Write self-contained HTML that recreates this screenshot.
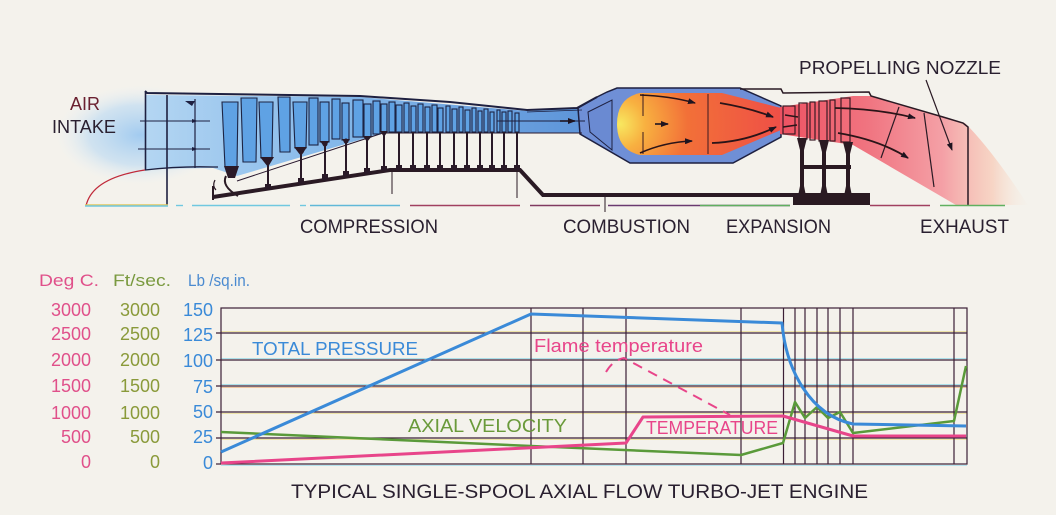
<!DOCTYPE html>
<html><head><meta charset="utf-8"><style>
html,body{margin:0;padding:0;background:#f4f2ec;}
svg{display:block;}
text{font-family:"Liberation Sans",sans-serif;}
</style></head><body>
<svg width="1056" height="515" viewBox="0 0 1056 515" xmlns="http://www.w3.org/2000/svg">
<defs>
<radialGradient id="haze" cx="0.5" cy="0.5" r="0.5">
<stop offset="0" stop-color="#9ec9f0" stop-opacity="0.95"/>
<stop offset="0.6" stop-color="#b8d8f2" stop-opacity="0.6"/>
<stop offset="1" stop-color="#e8f0f6" stop-opacity="0"/>
</radialGradient>
<linearGradient id="comp" x1="145" y1="0" x2="600" y2="0" gradientUnits="userSpaceOnUse">
<stop offset="0" stop-color="#b4d6f2"/>
<stop offset="0.4" stop-color="#86b9ea"/>
<stop offset="1" stop-color="#5a92d8"/>
</linearGradient>
<radialGradient id="flame" cx="620" cy="124" r="170" gradientUnits="userSpaceOnUse">
<stop offset="0" stop-color="#f8e860"/>
<stop offset="0.15" stop-color="#f8b040"/>
<stop offset="0.4" stop-color="#f27038"/>
<stop offset="1" stop-color="#ee4c48"/>
</radialGradient>
<linearGradient id="noz" x1="780" y1="0" x2="1030" y2="0" gradientUnits="userSpaceOnUse">
<stop offset="0" stop-color="#ee5262"/>
<stop offset="0.35" stop-color="#f07480"/>
<stop offset="0.65" stop-color="#f4a0a6"/>
<stop offset="0.85" stop-color="#f8c8b4" stop-opacity="0.7"/>
<stop offset="1" stop-color="#f8e8d8" stop-opacity="0"/>
</linearGradient>
<marker id="ah" markerWidth="8" markerHeight="6" refX="7" refY="3" orient="auto" markerUnits="userSpaceOnUse">
<path d="M0,0 L8,3 L0,6 Z" fill="#1e1420"/>
</marker>
</defs>

<!-- intake haze -->
<ellipse cx="140" cy="135" rx="85" ry="50" fill="url(#haze)"/>

<!-- compressor flow region -->
<path d="M145,95 L360,97 L527,111 L582,108 L582,133 L520,133 L383,133 L237,176 L213,168 L145,169 Z" fill="url(#comp)"/>

<!-- combustion casing -->
<path d="M578,108 L597,97 L607,92 L617,88 L740,88 L781,106 L781,137 L733,163 L630,163 L580,134 Z" fill="#6f8fd6" stroke="#1e2040" stroke-width="1.5"/>
<path d="M588,112 L612,100 L612,150 L590,132 Z" fill="#6a8ad2" stroke="#1e2040" stroke-width="1"/>
<!-- flame -->
<path d="M640,93 L722,93 L781,108 L781,130 L722,155 L640,155 Q617,150 617,124 Q617,98 640,93 Z" fill="url(#flame)"/>
<line x1="643" y1="94" x2="643" y2="116" stroke="#3a1a20" stroke-width="1"/>
<line x1="643" y1="132" x2="643" y2="154" stroke="#3a1a20" stroke-width="1"/>
<line x1="708" y1="94" x2="708" y2="154" stroke="#3a1a20" stroke-width="1"/>
<path d="M640,95 Q670,96 695,103" fill="none" stroke="#2a1418" stroke-width="1.6" marker-end="url(#ah)"/>
<path d="M640,153 Q665,142 692,141" fill="none" stroke="#2a1418" stroke-width="1.6" marker-end="url(#ah)"/>
<path d="M720,103 Q750,108 773,117" fill="none" stroke="#2a1418" stroke-width="1.8" marker-end="url(#ah)"/>
<path d="M712,143 Q745,142 776,127" fill="none" stroke="#2a1418" stroke-width="1.8" marker-end="url(#ah)"/>

<!-- nozzle / turbine plume -->
<path d="M780,107 L853,96 L870,96 L943,117 L965,123 Q992,150 1028,205 L956,205 L853,145 L780,134 Z" fill="url(#noz)"/>
<!-- turbine blades -->
<g fill="none" stroke="#3a1a24" stroke-width="1.2">
<rect x="783" y="106" width="12" height="28"/>
<rect x="799" y="103" width="8" height="36"/>
<rect x="810" y="102" width="5" height="38"/>
<rect x="819" y="101" width="8" height="40"/>
<rect x="830" y="100" width="5" height="41"/>
<rect x="841" y="98" width="9" height="44"/>
</g>
<!-- turbine shell top -->
<path d="M740,89 L781,89 L783,93 L869,92 L871,96 L943,117 L963,123 L968,127 L968,205" fill="none" stroke="#2a1a24" stroke-width="1.5"/>
<!-- nozzle lines -->
<line x1="899" y1="107" x2="881" y2="158" stroke="#2a1a24" stroke-width="1.2"/>
<line x1="924" y1="113" x2="934" y2="187" stroke="#2a1a24" stroke-width="1.2"/>
<line x1="926" y1="80" x2="952" y2="150" stroke="#2a1a24" stroke-width="1.2" marker-end="url(#ah)"/>
<path d="M835,108 Q880,109 915,118" fill="none" stroke="#2a1418" stroke-width="1.8" marker-end="url(#ah)"/>
<path d="M838,133 Q880,140 908,158" fill="none" stroke="#2a1418" stroke-width="1.8" marker-end="url(#ah)"/>
<line x1="785" y1="115" x2="798" y2="117" stroke="#2a1418" stroke-width="1.6"/>
<line x1="783" y1="127" x2="797" y2="125" stroke="#2a1418" stroke-width="1.6"/>

<!-- struts -->
<g fill="#2a1a22">
<path d="M797,138 L807,138 L804,150 L804,186 L806,196 L798,196 L800,186 L800,150 Z"/>
<path d="M819,140 L829,140 L826,152 L826,186 L828,196 L820,196 L822,186 L822,152 Z"/>
<path d="M843,142 L853,142 L850,154 L850,186 L852,196 L844,196 L846,186 L846,154 Z"/>
<rect x="800" y="165" width="51" height="4"/>
<rect x="793" y="193" width="77" height="12"/>
</g>

<!-- shaft / drum -->
<path d="M213,197 L390,170 L520,170 L543,195 L800,195" fill="none" stroke="#2a1a24" stroke-width="4"/>
<line x1="213" y1="186" x2="213" y2="200" stroke="#2a1a24" stroke-width="2"/>
<line x1="392" y1="171" x2="392" y2="194" stroke="#2a1a24" stroke-width="1"/>
<line x1="517" y1="172" x2="517" y2="198" stroke="#2a1a24" stroke-width="1"/>
<line x1="605" y1="197" x2="605" y2="212" stroke="#2a1a24" stroke-width="1"/>
<path d="M226,176 Q221,186 238,196" fill="none" stroke="#2a1a24" stroke-width="2"/>
<path d="M215,180 Q212,186 216,190" fill="none" stroke="#2a1a24" stroke-width="1.2"/>

<!-- hub thin line -->
<path d="M237,181 L383,133 L582,133" fill="none" stroke="#2a1a30" stroke-width="1"/>

<!-- compressor casing top -->
<path d="M145,91 L147,93 L360,96 L450,102 L527,110 L577,108 L597,97" fill="none" stroke="#1e2040" stroke-width="2"/>
<path d="M527,112 L582,110" stroke="#1e2040" stroke-width="0.8" fill="none"/>

<!-- intake lines -->
<line x1="145.5" y1="92" x2="145.5" y2="170" stroke="#1e2040" stroke-width="1.6"/>
<line x1="167" y1="95" x2="167" y2="205" stroke="#1e2040" stroke-width="1.6"/>
<line x1="195" y1="99" x2="195" y2="168" stroke="#1e2040" stroke-width="1.2"/>
<line x1="140" y1="121" x2="210" y2="121" stroke="#1e2040" stroke-width="1"/>
<line x1="138" y1="149" x2="210" y2="149" stroke="#1e2040" stroke-width="1"/>
<path d="M192,119 L198,121 L192,123 Z M192,147 L198,149 L192,151 Z" fill="#1e2040"/>
<path d="M185,101 L195,101 L192,106 Z" fill="#1e2040"/>

<!-- nose cone -->
<path d="M86,206 Q92,178 145,170" fill="none" stroke="#c02a3a" stroke-width="1.3"/>
<path d="M145,170 Q180,166 213,167 L218,167" fill="none" stroke="#1e2040" stroke-width="1.3"/>

<!-- blades -->
<g stroke="#1c2444" stroke-width="1.1" fill="#5fa2e4">
<path d="M222,102 L238,102 L237,167 L225,167 Z"/>
<path d="M241,98 L257,98 L256,162 L243,162 Z"/>
<path d="M259,102 L273,102 L272,158 L261,158 Z"/>
<path d="M278,97 L290,97 L290,152 L280,152 Z"/>
<path d="M293,102 L307,102 L306,148 L295,148 Z"/>
<rect x="309" y="98" width="9" height="47"/>
<rect x="320" y="102" width="9" height="40"/>
<rect x="332" y="99" width="8" height="40"/>
<rect x="342" y="103" width="7" height="37"/>
<rect x="353" y="100" width="10" height="37"/>
<rect x="364" y="104" width="7" height="33"/>
<rect x="373" y="101" width="7" height="33"/>
<rect x="381" y="104" width="6" height="28"/>
<rect x="389" y="102" width="6" height="30"/>
<rect x="396" y="105" width="6" height="27"/>
<rect x="404" y="103" width="5" height="29"/>
<rect x="411" y="106" width="5" height="26"/>
<rect x="418" y="104" width="5" height="28"/>
<rect x="425" y="107" width="5" height="25"/>
<rect x="432" y="105" width="5" height="27"/>
<rect x="438" y="108" width="5" height="24"/>
<rect x="446" y="106" width="4" height="26"/>
<rect x="452" y="109" width="5" height="23"/>
<rect x="459" y="107" width="4" height="25"/>
<rect x="465" y="110" width="5" height="22"/>
<rect x="472" y="108" width="4" height="24"/>
<rect x="478" y="111" width="4" height="21"/>
<rect x="484" y="109" width="4" height="23"/>
<rect x="490" y="112" width="4" height="20"/>
<rect x="497" y="110" width="3" height="22"/>
<rect x="502" y="112" width="4" height="20"/>
<rect x="508" y="111" width="4" height="21"/>
<rect x="515" y="113" width="4" height="19"/>
</g>
<!-- rotor roots and stalks -->
<g fill="#2a1a28">
<path d="M224,166 L239,166 L235,178 L228,178 Z"/>
<path d="M260,157 L274,157 L268,167 Z"/>
<path d="M294,147 L307,147 L301,156 Z"/>
<path d="M320,141 L329,141 L325,148 Z"/>
<path d="M342,139 L350,139 L346,145 Z"/>
<path d="M363,136 L372,136 L367,142 Z"/>
<path d="M380,131 L388,131 L384,137 Z"/>
</g>
<g stroke="#2a1a28" stroke-width="2">
<line x1="268" y1="165" x2="268" y2="189"/>
<line x1="301" y1="154" x2="301" y2="184"/>
<line x1="325" y1="146" x2="325" y2="180"/>
<line x1="346" y1="143" x2="346" y2="177"/>
<line x1="367" y1="140" x2="367" y2="174"/>
<line x1="384" y1="135" x2="384" y2="171"/>
<line x1="399" y1="132" x2="399" y2="170"/>
<line x1="413" y1="132" x2="413" y2="170"/>
<line x1="427" y1="132" x2="427" y2="170"/>
<line x1="440" y1="132" x2="440" y2="170"/>
<line x1="454" y1="132" x2="454" y2="170"/>
<line x1="467" y1="132" x2="467" y2="170"/>
<line x1="480" y1="132" x2="480" y2="170"/>
<line x1="492" y1="132" x2="492" y2="170"/>
<line x1="504" y1="132" x2="504" y2="170"/>
<line x1="517" y1="132" x2="517" y2="170"/>
</g>
<g fill="#2a1a28">
<rect x="265" y="184" width="6" height="6"/>
<rect x="298" y="178" width="6" height="6"/>
<rect x="322" y="174" width="6" height="6"/>
<rect x="343" y="171" width="6" height="6"/>
<rect x="364" y="168" width="6" height="6"/>
<rect x="381" y="166" width="6" height="5"/>
<rect x="396" y="165" width="6" height="5"/>
<rect x="410" y="165" width="6" height="5"/>
<rect x="424" y="165" width="6" height="5"/>
<rect x="437" y="165" width="6" height="5"/>
<rect x="451" y="165" width="6" height="5"/>
<rect x="464" y="165" width="6" height="5"/>
<rect x="477" y="165" width="6" height="5"/>
<rect x="489" y="165" width="6" height="5"/>
<rect x="501" y="165" width="6" height="5"/>
<rect x="514" y="165" width="6" height="5"/>
<circle cx="301" cy="151" r="3"/><circle cx="325" cy="144" r="2.5"/><circle cx="346" cy="141" r="2.5"/>
</g>
<!-- duct arrow -->
<line x1="497" y1="121" x2="585" y2="121" stroke="#1e2040" stroke-width="1"/>
<line x1="560" y1="121" x2="575" y2="121" stroke="#1e1420" stroke-width="1.6" marker-end="url(#ah)"/>
<line x1="655" y1="124" x2="668" y2="124" stroke="#1e1420" stroke-width="1.6" marker-end="url(#ah)"/>

<!-- baseline -->
<g stroke-width="1.4">
<line x1="85" y1="205" x2="168" y2="205" stroke="#e0c860"/>
<line x1="85" y1="206" x2="168" y2="206" stroke="#70c8e0"/>
<line x1="176" y1="205.5" x2="183" y2="205.5" stroke="#70c8e0"/>
<line x1="192" y1="205.5" x2="290" y2="205.5" stroke="#70c8e0"/>
<line x1="300" y1="205.5" x2="306" y2="205.5" stroke="#70c8e0"/>
<line x1="310" y1="205.5" x2="400" y2="205.5" stroke="#60b8d8"/>
<line x1="410" y1="205.5" x2="520" y2="205.5" stroke="#a04060"/>
<line x1="530" y1="205.5" x2="600" y2="205.5" stroke="#803a60"/>
<line x1="608" y1="205.5" x2="790" y2="205.5" stroke="#6a3a70"/>
<line x1="700" y1="205.5" x2="790" y2="205.5" stroke="#60b060"/>
<line x1="870" y1="205.5" x2="930" y2="205.5" stroke="#a04060"/>
<line x1="940" y1="205.5" x2="1005" y2="205.5" stroke="#60b060"/>
</g>

<!-- engine labels -->
<g fill="#2a2030" font-size="18">
<text x="70" y="110" textLength="30" lengthAdjust="spacingAndGlyphs" fill="#6a2030">AIR</text>
<text x="52" y="133" textLength="64" lengthAdjust="spacingAndGlyphs">INTAKE</text>
<text x="799" y="74" textLength="202" lengthAdjust="spacingAndGlyphs">PROPELLING NOZZLE</text>
<text x="300" y="233" font-size="19" textLength="138" lengthAdjust="spacingAndGlyphs">COMPRESSION</text>
<text x="563" y="233" font-size="19" textLength="127" lengthAdjust="spacingAndGlyphs">COMBUSTION</text>
<text x="726" y="233" font-size="19" textLength="105" lengthAdjust="spacingAndGlyphs">EXPANSION</text>
<text x="920" y="233" font-size="19" textLength="89" lengthAdjust="spacingAndGlyphs">EXHAUST</text>
</g>

<!-- chart axis headers -->
<text x="39" y="286" font-size="17" fill="#e0508a" textLength="60" lengthAdjust="spacingAndGlyphs">Deg C.</text>
<text x="113" y="286" font-size="17" fill="#7a9a40" textLength="58" lengthAdjust="spacingAndGlyphs">Ft/sec.</text>
<text x="188" y="286" font-size="17" fill="#4a8ad0" textLength="62" lengthAdjust="spacingAndGlyphs">Lb /sq.in.</text>

<g font-size="18" text-anchor="end" fill="#e0508a">
<text x="91" y="316">3000</text><text x="91" y="340">2500</text><text x="91" y="366">2000</text>
<text x="91" y="392">1500</text><text x="91" y="419">1000</text><text x="91" y="443">500</text><text x="91" y="468">0</text>
</g>
<g font-size="18" text-anchor="end" fill="#8a9a3a">
<text x="160" y="316">3000</text><text x="160" y="340">2500</text><text x="160" y="366">2000</text>
<text x="160" y="392">1500</text><text x="160" y="419">1000</text><text x="160" y="443">500</text><text x="160" y="468">0</text>
</g>
<g font-size="18" text-anchor="end" fill="#3a8ad8">
<text x="213" y="316">150</text><text x="213" y="341">125</text><text x="213" y="367">100</text>
<text x="213" y="393">75</text><text x="213" y="418">50</text><text x="213" y="443">25</text><text x="213" y="469">0</text>
</g>

<!-- grid accents -->
<g stroke-width="1" opacity="0.55">
<line x1="221" y1="331.5" x2="967" y2="331.5" stroke="#e8d870"/>
<line x1="221" y1="358.5" x2="967" y2="358.5" stroke="#70d0e8"/>
<line x1="221" y1="384.5" x2="967" y2="384.5" stroke="#70d0e8"/>
<line x1="221" y1="387.5" x2="967" y2="387.5" stroke="#e8a060"/>
<line x1="221" y1="413.5" x2="967" y2="413.5" stroke="#e8d870"/>
<line x1="221" y1="439.5" x2="967" y2="439.5" stroke="#e8d870"/>
<line x1="221" y1="465.5" x2="967" y2="465.5" stroke="#80d8f0"/>
</g>
<!-- grid -->
<g stroke="#3b1f35" stroke-width="1.2" fill="none">
<rect x="221" y="308" width="746" height="156"/>
<line x1="216" y1="333" x2="967" y2="333"/>
<line x1="216" y1="360" x2="967" y2="360"/>
<line x1="216" y1="386" x2="967" y2="386"/>
<line x1="216" y1="412" x2="967" y2="412"/>
<line x1="216" y1="438" x2="967" y2="438"/>
<line x1="216" y1="464" x2="221" y2="464"/>
<line x1="531" y1="308" x2="531" y2="464"/>
<line x1="583" y1="308" x2="583" y2="464"/>
<line x1="626" y1="308" x2="626" y2="464"/>
<line x1="741" y1="308" x2="741" y2="464"/>
<line x1="783.5" y1="308" x2="783.5" y2="464"/>
<line x1="795" y1="308" x2="795" y2="464"/>
<line x1="805" y1="308" x2="805" y2="464"/>
<line x1="817" y1="308" x2="817" y2="464"/>
<line x1="828" y1="308" x2="828" y2="464"/>
<line x1="840" y1="308" x2="840" y2="464"/>
<line x1="853" y1="308" x2="853" y2="464"/>
<line x1="954" y1="308" x2="954" y2="464"/>
</g>

<!-- curves -->
<path d="M606,372 Q613,360 624,358 L730,415" fill="none" stroke="#e8458a" stroke-width="2" stroke-dasharray="10 7"/>
<path d="M221,432 L531,446 L741,455 L783,443 L795,402 L805,418 L817,407 L828,418 L840,412 L853,433 L954,421 L966,366" fill="none" stroke="#5a9a3a" stroke-width="2.5" stroke-linejoin="round"/>
<path d="M221,463 L626,443 L643,417 L783,416 L853,436 L966,436" fill="none" stroke="#e8458a" stroke-width="3" stroke-linejoin="round"/>
<path d="M221,452 L531,314 L782,323 C786,370 810,415 853,424 L966,426" fill="none" stroke="#3a8ad8" stroke-width="3" stroke-linejoin="round"/>

<!-- chart labels -->
<text x="252" y="355" font-size="18" fill="#3a8ad8" textLength="166" lengthAdjust="spacingAndGlyphs">TOTAL PRESSURE</text>
<text x="534" y="352" font-size="18" fill="#e8458a" textLength="169" lengthAdjust="spacingAndGlyphs">Flame  temperature</text>
<text x="408" y="432" font-size="18" fill="#6a9a3a" textLength="159" lengthAdjust="spacingAndGlyphs">AXIAL VELOCITY</text>
<text x="646" y="434" font-size="18" fill="#e8458a" textLength="132" lengthAdjust="spacingAndGlyphs">TEMPERATURE</text>

<!-- title -->
<text x="291" y="498" font-size="19" fill="#2a2030" textLength="577" lengthAdjust="spacingAndGlyphs">TYPICAL  SINGLE-SPOOL  AXIAL  FLOW  TURBO-JET  ENGINE</text>
</svg>
</body></html>
